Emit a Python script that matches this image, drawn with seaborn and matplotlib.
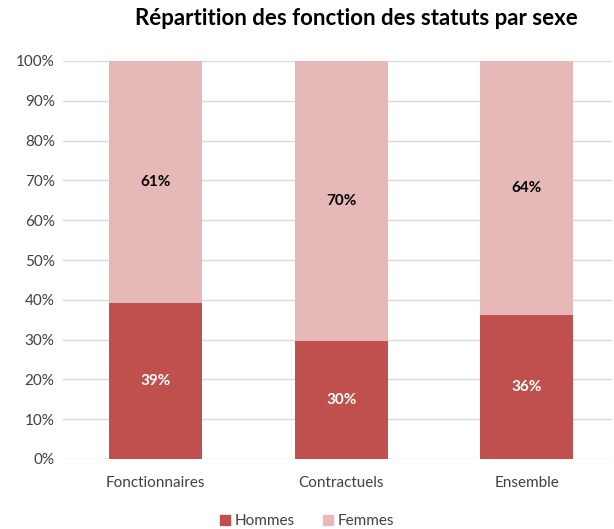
import pandas as pd
import seaborn as sns
import matplotlib.pyplot as plt
from matplotlib.patches import Patch
from matplotlib.ticker import PercentFormatter

# données
statuts = ['Fonctionnaires', 'Contractuels', 'Ensemble']
hommes = [39.2, 29.6, 36.2]
femmes = [60.8, 70.4, 63.8]

couleur_h = '#C0504D'
couleur_f = '#E6B9B8'

df = pd.DataFrame({'statut': statuts, 'Hommes': hommes, 'Femmes': femmes})
df['total'] = df['Hommes'] + df['Femmes']

sns.set_style('white')
plt.rcParams['font.family'] = ['Lato', 'DejaVu Sans']

fig = plt.figure(figsize=(6.14, 5.29), dpi=100)
ax = fig.add_axes([63 / 614, (529 - 459) / 529, (612 - 63) / 614, (459 - 61) / 529])

# barres empilées : total (femmes) puis hommes par-dessus
sns.barplot(data=df, x='statut', y='total', color=couleur_f, width=0.5,
            saturation=1, linewidth=0, ax=ax, zorder=2)
sns.barplot(data=df, x='statut', y='Hommes', color=couleur_h, width=0.5,
            saturation=1, linewidth=0, ax=ax, zorder=3)

for i, (h, f) in enumerate(zip(hommes, femmes)):
    ax.text(i, h / 2, f'{round(h)}%', ha='center', va='center', color='white',
            fontsize=11, fontweight='bold', zorder=4)
    ax.text(i, h + f / 2, f'{round(f)}%', ha='center', va='center', color='black',
            fontsize=11, fontweight='bold', zorder=4)

ax.set_ylim(0, 100)
ax.set_xlim(-0.5, 2.46)
ax.set_yticks(range(0, 101, 10))
ax.yaxis.set_major_formatter(PercentFormatter(decimals=0))
ax.grid(axis='y', color='#D9D9D9', linewidth=1, zorder=0)
ax.set_axisbelow(True)
for s in ax.spines.values():
    s.set_visible(False)
ax.set_xlabel('')
ax.set_ylabel('')
ax.tick_params(axis='both', length=0, labelsize=11, colors='#404040')
ax.tick_params(axis='x', pad=12)
ax.tick_params(axis='y', pad=6)

fig.suptitle('Répartition des fonction des statuts par sexe', x=0.58, y=0.985,
             fontsize=16, fontweight='bold', color='black')

handles = [Patch(color=couleur_h, label='Hommes'), Patch(color=couleur_f, label='Femmes')]
fig.legend(handles=handles, loc='lower center', bbox_to_anchor=(0.5, -0.025), ncol=2,
           frameon=False, fontsize=11, handlelength=0.7, handleheight=0.7,
           handletextpad=0.3, columnspacing=1.8, labelcolor='#404040')

plt.savefig('out.png', dpi=100)
